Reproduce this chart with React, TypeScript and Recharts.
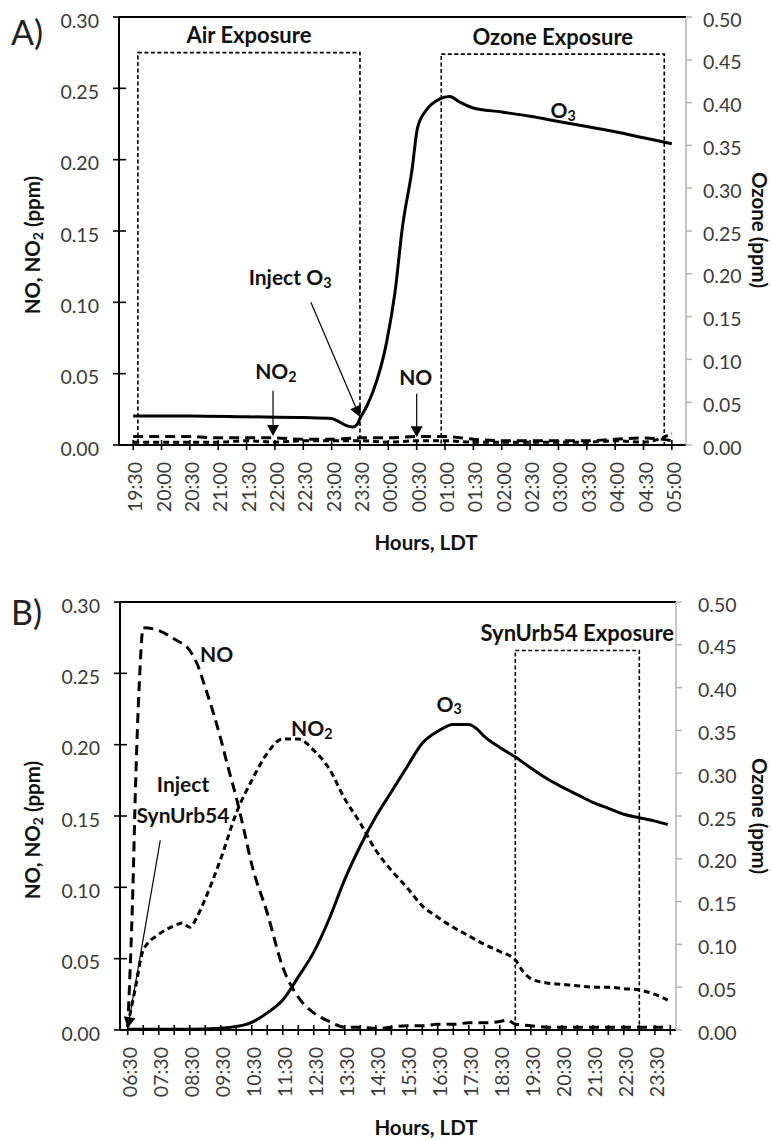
import React from 'react';
import { LineChart, Line, XAxis, YAxis, ReferenceArea, ReferenceLine, ReferenceDot } from 'recharts';

const FONT = 'Lato, "Open Sans", sans-serif';
const INK = '#000';
const TICK_TXT = '#3a3a3a';
const GRAY_AXIS = '#b3b3b3';

// ---- Panel A: 19:30 -> 05:00 ----
const aLabels = ['19:30', '20:00', '20:30', '21:00', '21:30', '22:00', '22:30', '23:00', '23:30', '00:00',
  '00:30', '01:00', '01:30', '02:00', '02:30', '03:00', '03:30', '04:00', '04:30', '05:00'];

const aO3Times = ['19:30', '20:30', '21:30', '22:30', '23:00', '23:08', '23:15', '23:22', '23:27', '23:30', '23:37',
  '23:44', '23:58', '00:07', '00:15', '00:25', '00:31', '00:40', '00:54', '01:05', '01:15', '01:29',
  '02:00', '02:30', '03:00', '03:30', '04:00', '04:30', '05:00'];
const aO3 = [0.034, 0.034, 0.033, 0.032, 0.031, 0.027, 0.023, 0.021, 0.024, 0.031, 0.045,
  0.063, 0.119, 0.178, 0.255, 0.321, 0.371, 0.391, 0.404, 0.407, 0.401, 0.394,
  0.389, 0.384, 0.378, 0.372, 0.366, 0.359, 0.352];

const aNO = [0.006, 0.006, 0.006, 0.005, 0.005, 0.005, 0.004, 0.004, 0.005, 0.005,
  0.006, 0.006, 0.004, 0.003, 0.003, 0.003, 0.003, 0.004, 0.005, 0.003];
const aNO2 = [0.002, 0.002, 0.002, 0.002, 0.003, 0.002, 0.003, 0.003, 0.003, 0.002,
  0.003, 0.003, 0.002, 0.002, 0.002, 0.002, 0.002, 0.003, 0.002, 0.008];

// ---- Panel B: 06:30 -> 00:00 ----
const bLabels = ['06:30', '07:30', '08:30', '09:30', '10:30', '11:30', '12:30', '13:30', '14:30',
  '15:30', '16:30', '17:30', '18:30', '19:30', '20:30', '21:30', '22:30', '23:30'];

const bO3Times = ['06:30', '07:30', '08:30', '09:30', '10:00', '10:30', '11:00', '11:30', '12:00', '12:30',
  '13:00', '13:30', '14:00', '14:30', '15:00', '15:30', '16:00', '16:30', '17:00', '17:30', '17:45',
  '18:00', '18:30', '19:00', '19:30', '20:00', '20:30', '21:00', '21:30', '22:00', '22:30', '23:00',
  '23:30', '23:55'];
const bO3 = [0.001, 0.001, 0.001, 0.002, 0.004, 0.009, 0.02, 0.035, 0.062, 0.091,
  0.13, 0.176, 0.215, 0.249, 0.278, 0.307, 0.335, 0.349, 0.357, 0.357, 0.352,
  0.343, 0.33, 0.319, 0.306, 0.294, 0.284, 0.275, 0.266, 0.259, 0.252, 0.248,
  0.244, 0.24];

const bNOTimes = ['06:30', '06:40', '06:45', '06:52', '07:00', '07:30', '08:00', '08:30', '08:45', '09:00',
  '09:15', '09:30', '09:45', '10:00', '10:15', '10:30', '11:00', '11:30', '12:00', '12:30',
  '13:00', '13:30', '14:00', '14:30', '15:00', '15:30', '16:00', '16:30', '17:00', '17:30',
  '18:00', '18:30', '18:45', '19:00', '19:30', '20:00', '20:30', '21:00', '21:30', '22:00',
  '22:30', '23:00', '23:30', '23:55'];
const bNO = [0.002, 0.10, 0.17, 0.24, 0.282, 0.280, 0.274, 0.266, 0.256, 0.240,
  0.223, 0.204, 0.183, 0.163, 0.140, 0.116, 0.082, 0.044, 0.023, 0.012,
  0.006, 0.002, 0.002, 0.001, 0.002, 0.003, 0.003, 0.004, 0.004, 0.005,
  0.005, 0.006, 0.007, 0.004, 0.003, 0.002, 0.002, 0.002, 0.002, 0.002,
  0.002, 0.002, 0.002, 0.002];

const bNO2Times = ['06:30', '06:45', '07:00', '07:30', '08:00', '08:15', '08:30', '08:45', '09:00', '09:30',
  '10:00', '10:30', '11:00', '11:30', '12:00', '12:30', '13:00', '13:30', '14:00', '14:30',
  '15:00', '15:30', '16:00', '16:30', '17:00', '17:30', '18:00', '18:30', '19:00', '19:15',
  '19:30', '20:00', '20:30', '21:00', '21:30', '22:00', '22:30', '23:00', '23:30', '23:55'];
const bNO2 = [0.003, 0.030, 0.056, 0.067, 0.073, 0.075, 0.072, 0.080, 0.092, 0.120,
  0.152, 0.175, 0.194, 0.204, 0.204, 0.196, 0.183, 0.162, 0.145, 0.126,
  0.112, 0.100, 0.087, 0.079, 0.072, 0.066, 0.060, 0.055, 0.049, 0.041,
  0.036, 0.033, 0.032, 0.031, 0.030, 0.030, 0.029, 0.028, 0.025, 0.021];

const leftTicks = [0, 0.05, 0.1, 0.15, 0.2, 0.25, 0.3];
const rightTicks = [0, 0.05, 0.1, 0.15, 0.2, 0.25, 0.3, 0.35, 0.4, 0.45, 0.5];

// minutes since the start of the panel (wraps past midnight)
const toMin = (s: string, start: string) => {
  const [h, m] = s.split(':').map(Number);
  const [h0, m0] = start.split(':').map(Number);
  return (h * 60 + m - (h0 * 60 + m0) + 1440) % 1440;
};
const series = (times: string[], vals: number[], start: string) =>
  times.map((t, i) => ({ t: toMin(t, start), v: vals[i] }));

const A0 = '19:30';
const B0 = '06:30';
const aO3Data = series(aO3Times, aO3, A0);
const aNOData = series(aLabels, aNO, A0);
const aNO2Data = series(aLabels, aNO2, A0);
const bO3Data = series(bO3Times, bO3, B0);
const bNOData = series(bNOTimes, bNO, B0);
const bNO2Data = series(bNO2Times, bNO2, B0);

const aTickMins = aLabels.map(l => toMin(l, A0));
const bTickMins = Array.from({ length: 36 }, (_, i) => i * 30);
const bLabelMins = bLabels.map(l => toMin(l, B0));

const minToLabel = (m: number, start: string) => {
  const [h0, m0] = start.split(':').map(Number);
  const tot = (h0 * 60 + m0 + m) % 1440;
  return `${String(Math.floor(tot / 60)).padStart(2, '0')}:${String(tot % 60).padStart(2, '0')}`;
};

// ---- small svg helpers ----
const Chem = ({ base, sub, rest = '' }: { base: string; sub: string; rest?: string }) => (
  <>
    {base}
    <tspan dy={5} fontSize="0.68em">{sub}</tspan>
    {rest ? <tspan dy={-5}>{rest}</tspan> : null}
  </>
);

const makeXTick = (start: string, labelled: number[] | null) => (p: any) => {
  const { x, y, payload } = p;
  const show = !labelled || labelled.includes(payload.value);
  return (
    <g>
      <line x1={x} x2={x} y1={y - 5} y2={y + 5} stroke={INK} strokeWidth={1.6} />
      {show && (
        <text transform={`translate(${x + 2},${y + 17}) rotate(-90)`} textAnchor="end" dy="0.36em"
          fontFamily={FONT} fontSize={19.5} fill={TICK_TXT}>
          {minToLabel(payload.value, start)}
        </text>
      )}
    </g>
  );
};

const LeftTick = (p: any) => {
  const { x, y, payload } = p;
  return (
    <g>
      <line x1={x - 6} x2={x + 7} y1={y} y2={y} stroke={INK} strokeWidth={1.6} />
      <text x={x - 20} y={y + 3} textAnchor="end" dominantBaseline="central" fontFamily={FONT} fontSize={19.5} fill={TICK_TXT}>
        {payload.value.toFixed(2)}
      </text>
    </g>
  );
};

const makeRightTick = (gap: number) => (p: any) => {
  const { x, y, payload } = p;
  return (
    <g>
      <line x1={x} x2={x + 6} y1={y} y2={y} stroke={GRAY_AXIS} strokeWidth={1.5} />
      <text x={x + gap} y={y + 2} textAnchor="start" dominantBaseline="central" fontFamily={FONT} fontSize={19.5} fill={TICK_TXT}>
        {payload.value.toFixed(2)}
      </text>
    </g>
  );
};

const Arrow = (p: any) => {
  const { x1, y1, x2, y2 } = p;
  const a = Math.atan2(y2 - y1, x2 - x1);
  const L = 11, W = 6;
  const bx = x2 - L * Math.cos(a), by = y2 - L * Math.sin(a);
  const pts = `${x2},${y2} ${bx + W * Math.sin(a)},${by - W * Math.cos(a)} ${bx - W * Math.sin(a)},${by + W * Math.cos(a)}`;
  return (
    <g>
      <line x1={x1} y1={y1} x2={bx} y2={by} stroke={INK} strokeWidth={1.2} />
      <polygon points={pts} fill={INK} />
    </g>
  );
};

const textShape = (content: React.ReactNode) => (p: any) => (
  <text x={p.cx} y={p.cy} textAnchor="middle" dominantBaseline="central" fontFamily={FONT} fontSize={21}
    fontWeight="bold" fill="#111">
    {content}
  </text>
);

const boxLabel = (value: string) => (p: any) => {
  const vb = p.viewBox;
  return (
    <text x={vb.x + vb.width / 2} y={vb.y - 18} textAnchor="middle" dominantBaseline="central" fontFamily={FONT}
      fontSize={22} fontWeight="bold" fill="#111">
      {value}
    </text>
  );
};

const titleStyle = { fontFamily: FONT, fontSize: 20.5, fontWeight: 'bold' as const, fill: '#111' };
const boxStroke = { fill: 'none', stroke: INK, strokeWidth: 1.6, strokeDasharray: '4 2.5' };

const Titles = ({ letter, letterY, leftY, rightY, hoursY }: any) => (
  <svg width={772} height={600} style={{ position: 'absolute', left: 0, top: 0, pointerEvents: 'none' }}>
    <text x={11} y={letterY} fontFamily={FONT} fontSize={34} fill="#222">{letter}</text>
    <text transform={`translate(32,${leftY}) rotate(-90)`} textAnchor="middle" dominantBaseline="central" {...titleStyle}>
      <Chem base="NO, NO" sub="2" rest=" (ppm)" />
    </text>
    <text transform={`translate(760,${rightY}) rotate(90)`} textAnchor="middle" dominantBaseline="central" {...titleStyle}>
      Ozone (ppm)
    </text>
    <text x={426} y={hoursY} textAnchor="middle" dominantBaseline="central" {...titleStyle}>Hours, LDT</text>
  </svg>
);

function PanelA() {
  return (
    <div style={{ position: 'relative', width: 772, height: 560 }}>
      <LineChart width={772} height={560} margin={{ top: 17, right: 0, bottom: 0, left: 0 }}>
        <XAxis dataKey="t" type="number" domain={[-15, 585]} ticks={aTickMins} interval={0} height={115}
          tickSize={0} tickMargin={0} tick={makeXTick(A0, null)} axisLine={{ stroke: INK, strokeWidth: 2 }} allowDataOverflow />
        <YAxis yAxisId="left" domain={[0, 0.3]} ticks={leftTicks} interval={0} width={119} tickSize={0} tickMargin={0}
          tick={LeftTick} axisLine={{ stroke: INK, strokeWidth: 2 }} allowDataOverflow />
        <YAxis yAxisId="right" orientation="right" domain={[0, 0.5]} ticks={rightTicks} interval={0} width={86}
          tickSize={0} tickMargin={0} tick={makeRightTick(17)} axisLine={{ stroke: GRAY_AXIS, strokeWidth: 1.5 }} allowDataOverflow />
        <ReferenceLine yAxisId="left" y={0.3} stroke={INK} strokeWidth={2} />
        <ReferenceArea yAxisId="left" x1={5} x2={240} y1={0} y2={0.275} {...boxStroke} label={boxLabel('Air Exposure')} />
        <ReferenceArea yAxisId="left" x1={326} x2={562} y1={0} y2={0.274} {...boxStroke} label={boxLabel('Ozone Exposure')} />
        <Line data={aNOData} yAxisId="left" dataKey="v" type="monotone" stroke={INK} strokeWidth={3}
          strokeDasharray="10 6" dot={false} isAnimationActive={false} />
        <Line data={aNO2Data} yAxisId="left" dataKey="v" type="monotone" stroke={INK} strokeWidth={3}
          strokeDasharray="6 4" dot={false} isAnimationActive={false} />
        <Line data={aO3Data} yAxisId="right" dataKey="v" type="monotone" stroke={INK} strokeWidth={3}
          dot={false} isAnimationActive={false} />
        <ReferenceLine yAxisId="left" segment={[{ x: 188, y: 0.1 }, { x: 240, y: 0.0196 }]} shape={Arrow} />
        <ReferenceLine yAxisId="left" segment={[{ x: 148, y: 0.038 }, { x: 148, y: 0.0063 }]} shape={Arrow} />
        <ReferenceLine yAxisId="left" segment={[{ x: 300, y: 0.036 }, { x: 300, y: 0.0055 }]} shape={Arrow} />
        <ReferenceDot yAxisId="left" x={166} y={0.118} r={0} shape={textShape(<Chem base="Inject O" sub="3" />)} />
        <ReferenceDot yAxisId="left" x={151} y={0.052} r={0} shape={textShape(<Chem base="NO" sub="2" />)} />
        <ReferenceDot yAxisId="left" x={299} y={0.048} r={0} shape={textShape('NO')} />
        <ReferenceDot yAxisId="left" x={455} y={0.235} r={0} shape={textShape(<Chem base="O" sub="3" />)} />
      </LineChart>
      <Titles letter="A)" letterY={45} leftY={245} rightY={230} hoursY={542} />
    </div>
  );
}

function PanelB() {
  return (
    <div style={{ position: 'relative', width: 772, height: 580 }}>
      <LineChart width={772} height={580} margin={{ top: 42, right: 0, bottom: 0, left: 0 }}>
        <XAxis dataKey="t" type="number" domain={[-15, 1061]} ticks={bTickMins} interval={0} height={110}
          tickSize={0} tickMargin={0} tick={makeXTick(B0, bLabelMins)} axisLine={{ stroke: INK, strokeWidth: 2 }} allowDataOverflow />
        <YAxis yAxisId="left" domain={[0, 0.3]} ticks={leftTicks} interval={0} width={120} tickSize={0} tickMargin={0}
          tick={LeftTick} axisLine={{ stroke: INK, strokeWidth: 2 }} allowDataOverflow />
        <YAxis yAxisId="right" orientation="right" domain={[0, 0.5]} ticks={rightTicks} interval={0} width={96}
          tickSize={0} tickMargin={0} tick={makeRightTick(22)} axisLine={{ stroke: GRAY_AXIS, strokeWidth: 1.5 }} allowDataOverflow />
        <ReferenceLine yAxisId="left" y={0.3} stroke={INK} strokeWidth={2} />
        <ReferenceArea yAxisId="left" x1={750} x2={990} y1={0} y2={0.266} {...boxStroke} label={boxLabel('SynUrb54 Exposure')} />
        <Line data={bNOData} yAxisId="left" dataKey="v" type="monotone" stroke={INK} strokeWidth={3}
          strokeDasharray="10 6" dot={false} isAnimationActive={false} />
        <Line data={bNO2Data} yAxisId="left" dataKey="v" type="monotone" stroke={INK} strokeWidth={3}
          strokeDasharray="6 4" dot={false} isAnimationActive={false} />
        <Line data={bO3Data} yAxisId="right" dataKey="v" type="monotone" stroke={INK} strokeWidth={3}
          dot={false} isAnimationActive={false} />
        <ReferenceLine yAxisId="left" segment={[{ x: 63, y: 0.133 }, { x: 0, y: 0.0014 }]} shape={Arrow} />
        <ReferenceDot yAxisId="left" x={172} y={0.264} r={0} shape={textShape('NO')} />
        <ReferenceDot yAxisId="left" x={356} y={0.212} r={0} shape={textShape(<Chem base="NO" sub="2" />)} />
        <ReferenceDot yAxisId="left" x={622} y={0.229} r={0} shape={textShape(<Chem base="O" sub="3" />)} />
        <ReferenceDot yAxisId="left" x={107} y={0.173} r={0} shape={textShape('Inject')} />
        <ReferenceDot yAxisId="left" x={107} y={0.151} r={0} shape={textShape('SynUrb54')} />
      </LineChart>
      <Titles letter="B)" letterY={65} leftY={270} rightY={256} hoursY={567} />
    </div>
  );
}

export default function App() {
  return (
    <div style={{ position: 'absolute', left: 0, top: 0, width: 772, height: 1140, background: '#fff' }}>
      <PanelA />
      <PanelB />
    </div>
  );
}
